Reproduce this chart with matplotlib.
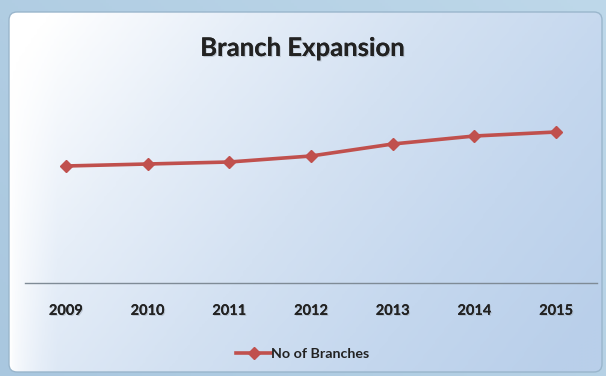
import numpy as np
import matplotlib.pyplot as plt
from matplotlib.patches import FancyBboxPatch
from matplotlib.colors import LinearSegmentedColormap
import matplotlib.patheffects as pe

years = ["2009", "2010", "2011", "2012", "2013", "2014", "2015"]
branches = [117, 119, 121, 127, 139, 147, 151]
series_name = "No of Branches"
title = "Branch Expansion"

W, H = 606, 376
fig = plt.figure(figsize=(W / 100, H / 100), dpi=100)

# backdrop behind the chart panel
bg = fig.add_axes([0, 0, 1, 1], zorder=0)
bg.set_xlim(0, W)
bg.set_ylim(H, 0)
bg.axis("off")
gx = np.linspace(0, 1, 200)
gy = np.linspace(0, 1, 120)
X, Y = np.meshgrid(gx, gy)
back_cmap = LinearSegmentedColormap.from_list("back", ["#a9c7df", "#c3dcec"])
bg.imshow(back_cmap(0.5 * X + 0.5 * (1 - Y) * 0.6), extent=[0, W, H, 0], aspect="auto", zorder=0)

# rounded chart panel with a white-to-blue gradient
panel = FancyBboxPatch((9, 12), 593, 360, boxstyle="round,pad=0,rounding_size=8",
                       facecolor="none", edgecolor="#9ab6cc", linewidth=1.0, zorder=2)
bg.add_patch(panel)
panel_cmap = LinearSegmentedColormap.from_list(
    "panel", ["#ffffff", "#e6eef8", "#d3e1f2", "#c4d7ee", "#b9cfea"])
t = np.clip(0.75 * X + 0.35 * Y - 0.05, 0, 1)
t = np.where(X < 0.08, t * (X / 0.08) ** 0.6, t)
img = bg.imshow(panel_cmap(t), extent=[9, 602, 372, 12], aspect="auto", zorder=1)
img.set_clip_path(panel)

shadow = [pe.withSimplePatchShadow(offset=(0.8, -0.8), shadow_rgbFace="#9aa4b0", alpha=0.5),
          pe.Normal()]

fig.text(0.5, 1 - 48 / H, title, ha="center", va="center",
         fontsize=18.5, fontweight="bold", family="Lato", color="#222222",
         path_effects=shadow)

ax = fig.add_axes([25 / W, 1 - 283 / H, 572 / W, 200 / H], zorder=3)
ax.patch.set_alpha(0)
x = np.arange(len(years))
line, = ax.plot(x, branches, color="#c0504d", linewidth=2.6, marker="D",
                markersize=6.5, markeredgecolor="#c0504d", label=series_name)
ax.set_xlim(-0.5, len(years) - 0.5)
ax.set_ylim(0, 200)
ax.set_xticks(x)
ax.set_xticklabels(years, fontsize=10.5, fontweight="bold", family="Lato", color="#222222")
for lbl in ax.get_xticklabels():
    lbl.set_path_effects(shadow)
ax.tick_params(axis="x", length=0, pad=15)
ax.set_yticks([])
for s in ["top", "right", "left"]:
    ax.spines[s].set_visible(False)
ax.spines["bottom"].set_color("#7f8b96")
ax.spines["bottom"].set_linewidth(1.0)

leg = fig.legend(handles=[line], loc="center", bbox_to_anchor=(0.5, 1 - 354 / H),
                 frameon=False, prop={"family": "Lato", "weight": "bold", "size": 10.3},
                 handlelength=2.4, handletextpad=0.05)
for txt in leg.get_texts():
    txt.set_color("#222222")

fig.savefig("out.png", dpi=100)
